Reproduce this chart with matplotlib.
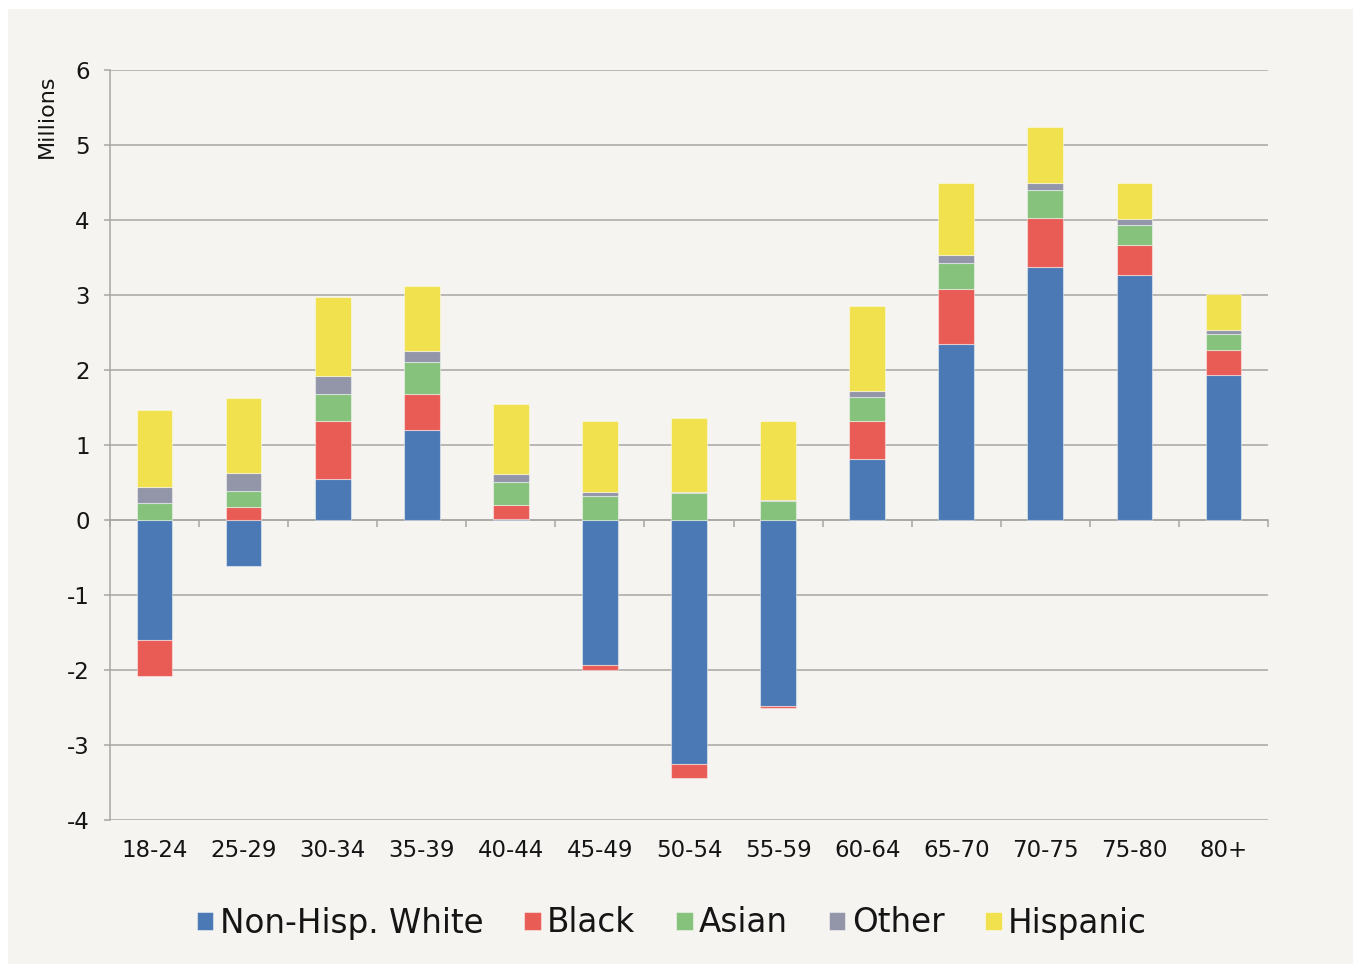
import matplotlib
matplotlib.use("Agg")
import matplotlib.pyplot as plt
import numpy as np
from matplotlib.patches import Rectangle

categories = ["18-24", "25-29", "30-34", "35-39", "40-44", "45-49", "50-54",
              "55-59", "60-64", "65-70", "70-75", "75-80", "80+"]
white    = [-1.60, -0.61, 0.55, 1.20, 0.02, -1.93, -3.25, -2.48, 0.82, 2.35, 3.37, 3.27, 1.94]
black    = [-0.48,  0.17, 0.77, 0.48, 0.18, -0.07, -0.19, -0.03, 0.50, 0.73, 0.66, 0.40, 0.33]
asian    = [ 0.23,  0.22, 0.36, 0.43, 0.31,  0.32,  0.36,  0.25, 0.32, 0.35, 0.37, 0.27, 0.21]
other    = [ 0.21,  0.24, 0.24, 0.15, 0.11,  0.05,  0.01,  0.02, 0.08, 0.11, 0.10, 0.07, 0.06]
hispanic = [ 1.03,  1.00, 1.05, 0.86, 0.93,  0.95,  0.99,  1.05, 1.13, 0.96, 0.74, 0.48, 0.47]

series_names = ["Non-Hisp. White", "Black", "Asian", "Other", "Hispanic"]
series = [white, black, asian, other, hispanic]
colors = ["#4A79B5", "#E95C56", "#86C27B", "#9396A8", "#F1E14E"]
yticks = [-4, -3, -2, -1, 0, 1, 2, 3, 4, 5, 6]

BG = "#F5F4F0"
GRID = "#A8A7A2"
TXT = "#151515"
FONT = ["DejaVu Sans"]
plt.rcParams["font.family"] = FONT

W, H = 1353, 964
fig = plt.figure(figsize=(W / 100, H / 100), dpi=100, facecolor="white")
fig.patches.append(Rectangle((8 / W, 0), 1 - 8 / W, 1 - 9 / H, transform=fig.transFigure,
                             facecolor=BG, edgecolor="none", zorder=-10))

ax = fig.add_axes([110 / W, 1 - 820 / H, (1268 - 110) / W, (820 - 70) / H])
ax.set_facecolor(BG)
ax.patch.set_alpha(0)

x = np.arange(len(categories))
pos_base = np.zeros(len(categories))
neg_base = np.zeros(len(categories))
handles = []
for name, vals, col in zip(series_names, series, colors):
    vals = np.array(vals, dtype=float)
    bottoms = np.where(vals >= 0, pos_base, neg_base)
    b = ax.bar(x, vals, width=0.4, bottom=bottoms, color=col,
               edgecolor=(1, 1, 1, 0.45), linewidth=0.8, label=name, zorder=3)
    handles.append(b)
    pos_base = pos_base + np.where(vals >= 0, vals, 0)
    neg_base = neg_base + np.where(vals < 0, vals, 0)

ax.set_xlim(-0.5, len(categories) - 0.5)
ax.set_ylim(-4, 6)
ax.set_yticks(yticks)
ax.set_yticklabels([str(v) for v in yticks])
ax.yaxis.grid(True, color=GRID, linewidth=1.1, zorder=0)
ax.set_axisbelow(True)

for s in ["top", "right", "bottom"]:
    ax.spines[s].set_visible(False)
ax.spines["left"].set_color(GRID)
ax.spines["left"].set_linewidth(1.1)

ax.tick_params(axis="y", direction="out", length=4.5, width=1.1, color=GRID,
               pad=10, labelsize=16.5, labelcolor=TXT)
ax.set_xticks(x)
ax.set_xticklabels(categories)
ax.tick_params(axis="x", length=0, pad=14, labelsize=16.5, labelcolor=TXT)

# zero axis with boundary ticks
sec = ax.secondary_xaxis(0.4)
sec.set_xticks(np.arange(-0.5, len(categories), 1.0))
sec.tick_params(direction="out", length=5, width=1.1, color=GRID, labelbottom=False)
sec.spines["bottom"].set_color(GRID)
sec.spines["bottom"].set_linewidth(1.1)

fig.text(47 / W, 1 - 116 / H, "Millions", rotation=90, ha="center", va="center",
         fontsize=16, color=TXT)

fig.legend(handles, series_names, loc="center", bbox_to_anchor=(672 / W, 1 - 923 / H),
           ncol=5, frameon=False, fontsize=23.5, handlelength=0.5, handleheight=0.5,
           handletextpad=0.2, columnspacing=1.25, labelcolor=TXT)

fig.savefig("out.png", dpi=100, facecolor="white")
